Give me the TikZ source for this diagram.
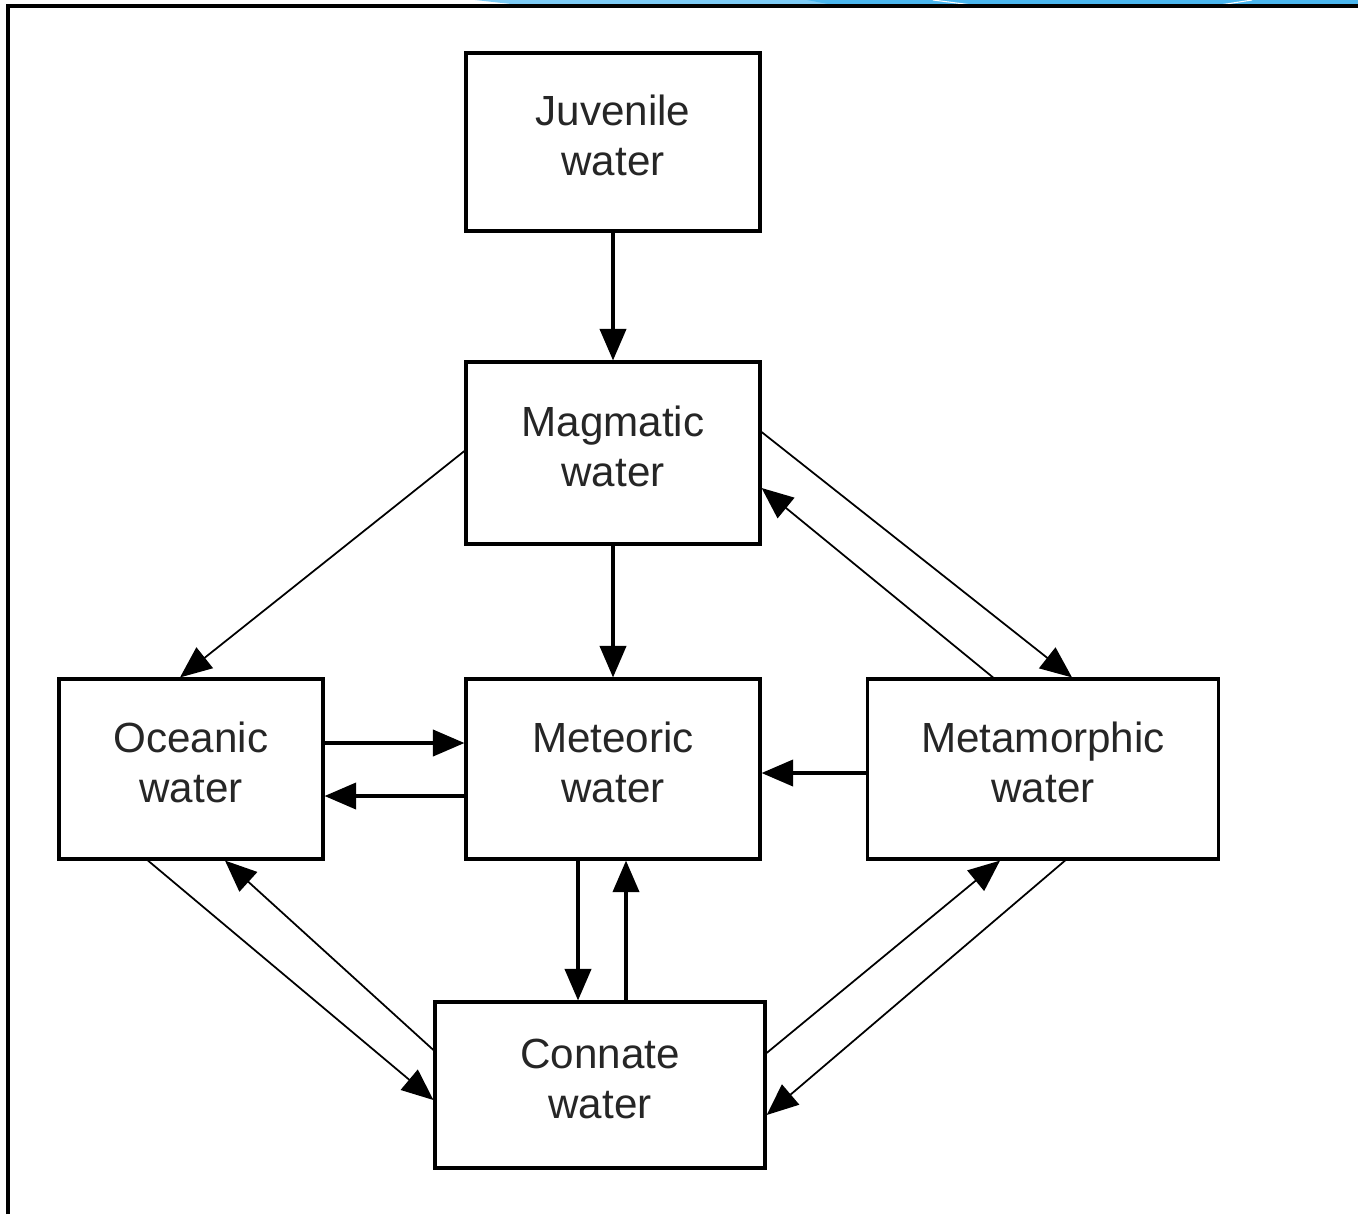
\documentclass[tikz,border=0pt]{standalone}
\usepackage{fontspec}
\setmainfont{Liberation Sans}
\usetikzlibrary{arrows.meta}
\definecolor{slideblue}{HTML}{7DCBF5}
\definecolor{slidedeep}{HTML}{4BB6EE}
\begin{document}
\begin{tikzpicture}[line join=miter, >={Triangle[length=9pt,width=7.5pt]},
 box/.style={draw,line width=0.9pt,align=center,inner sep=0pt,text depth=0.13cm,
  font=\fontsize{12}{14.2}\selectfont,text=black!85},
 bold/.style={->,line width=0.9pt},
 thin/.style={->,line width=0.5pt}]
 \useasboundingbox (0,0) rectangle (13.58,12.14);
 \fill[slideblue] (4.75,12.14)--(13.58,12.14)--(13.58,12.09)--(5.2,12.09)--cycle;
 \fill[slidedeep] (8.07,12.14)--(13.58,12.14)--(13.58,12.09)--(8.33,12.09)--cycle;
 \draw[white,line width=0.3pt] (9.33,12.14)--(9.72,12.09) (12.20,12.09)--(12.52,12.14);
 \draw[line width=0.9pt] (0.08,0)--(0.08,12.08)--(13.58,12.08);
 \node[box,minimum width=2.94cm,minimum height=1.78cm] (juv) at (6.13,10.72) {Juvenile\\water};
 \node[box,minimum width=2.94cm,minimum height=1.82cm] (mag) at (6.13,7.61) {Magmatic\\water};
 \node[box,minimum width=2.64cm,minimum height=1.80cm] (oce) at (1.91,4.45) {Oceanic\\water};
 \node[box,minimum width=2.94cm,minimum height=1.80cm] (mete) at (6.13,4.45) {Meteoric\\water};
 \node[box,minimum width=3.51cm,minimum height=1.80cm] (mtm) at (10.43,4.45) {Metamorphic\\water};
 \node[box,minimum width=3.30cm,minimum height=1.66cm] (con) at (6.00,1.29) {Connate\\water};
 \draw[bold] (juv)--(mag);
 \draw[bold] (mag)--(mete);
 \draw[bold] ([yshift=0.26cm]oce.east)--([yshift=0.26cm]mete.west);
 \draw[bold] ([yshift=-0.27cm]mete.west)--([yshift=-0.27cm]oce.east);
 \draw[bold] ([yshift=-0.04cm]mtm.west)--([yshift=-0.04cm]mete.east);
 \draw[bold] ([xshift=-0.35cm]mete.south)--([xshift=-0.35cm]mete.south |- con.north);
 \draw[bold] ([xshift=0.13cm]mete.south |- con.north)--([xshift=0.13cm]mete.south);
 \draw[thin] ([yshift=0.02cm]mag.west)--([xshift=-0.11cm]oce.north);
 \draw[thin] ([yshift=0.21cm]mag.east)--([xshift=0.29cm]mtm.north);
 \draw[thin] ([xshift=-0.5cm]mtm.north)--([yshift=-0.35cm]mag.east);
 \draw[thin] ([xshift=-0.43cm]oce.south)--([yshift=-0.15cm]con.west);
 \draw[thin] ([yshift=0.35cm]con.west)--([xshift=0.34cm]oce.south);
 \draw[thin] ([yshift=0.32cm]con.east)--([xshift=-0.43cm]mtm.south);
 \draw[thin] ([xshift=0.22cm]mtm.south)--([yshift=-0.30cm]con.east);
\end{tikzpicture}
\end{document}
